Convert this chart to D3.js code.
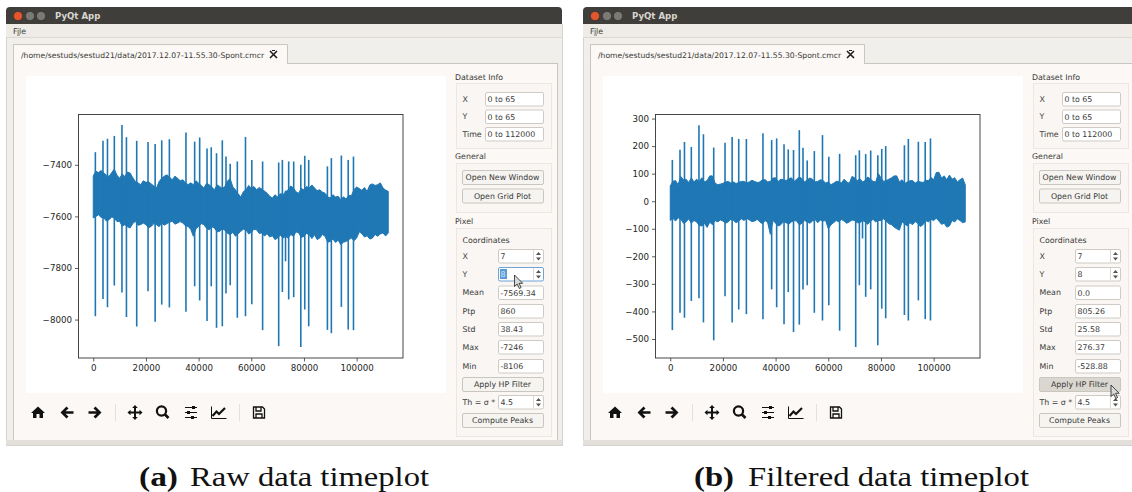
<!DOCTYPE html>
<html><head><meta charset="utf-8">
<script src="https://cdn.jsdelivr.net/npm/d3@7/dist/d3.min.js"></script>
<style>html,body{margin:0;padding:0;background:#fff;overflow:hidden}svg{display:block}
text{font-family:"DejaVu Sans",sans-serif}</style></head><body>
<svg id="c" width="1132" height="492"></svg>
<script>
// ---------- data ----------
const spikeX = [800,3700,5400,8000,10900,12600,16500,20800,23500,26000,28900,35200,38500,40400,43200,44800,46800,49000,50400,52000,54700,57800,60200,64300,70400,71800,73000,74200,76100,78800,80300,81800,88900,90400,94200,96800,98800];
const rawTop = [-7351,-7307,-7299,-7288,-7246,-7293,-7307,-7312,-7319,-7305,-7301,-7275,-7310,-7294,-7337,-7332,-7355,-7305,-7368,-7396,-7387,-7292,-7381,-7387,-7391,-7381,-7500,-7387,-7387,-7400,-7365,-7381,-7406,-7374,-7364,-7381,-7368];
const rawBottom = [-7987,-7920,-7952,-7868,-7895,-7990,-8027,-7890,-8008,-7942,-7953,-7970,-7871,-7926,-8006,-7871,-8032,-8026,-7899,-7867,-7993,-7987,-7941,-8041,-8103,-7893,-7774,-7922,-7913,-8106,-7961,-8026,-8040,-8053,-7951,-8039,-8041];
const filtTop = [150,187,215,197,276,243,195,212,233,226,226,247,222,228,207,188,186,258,194,148,182,240,161,172,167,185,70,171,184,167,190,200,203,226,216,215,228];
const filtBottom = [-468,-405,-423,-362,-352,-440,-505,-345,-440,-393,-410,-428,-320,-385,-447,-330,-475,-448,-320,-305,-405,-433,-378,-470,-529,-305,-135,-347,-320,-523,-390,-425,-413,-433,-360,-428,-433];
const bandX = [0,1000,2000,3000,4000,5000,6000,7000,8000,9000,
10000,11000,12000,13000,14000,15000,16000,17000,18000,19000,
20000,21000,22000,23000,24000,25000,26000,27000,28000,29000,
30000,31000,32000,33000,34000,35000,36000,37000,38000,39000,
40000,41000,42000,43000,44000,45000,46000,47000,48000,49000,
50000,51000,52000,53000,54000,55000,56000,57000,58000,59000,
60000,61000,62000,63000,64000,65000,66000,67000,68000,69000,
70000,71000,72000,73000,74000,75000,76000,77000,78000,79000,
80000,81000,82000,83000,84000,85000,86000,87000,88000,89000,
90000,91000,92000,93000,94000,95000,96000,97000,98000,99000,
100000,101000,102000,103000,104000,105000,106000,107000,108000,109000,
110000,111000,112000];
const rawBandTop = [-7443,-7425,-7430,-7422,-7432,-7440,-7445,-7430,-7417,-7440,
-7452,-7436,-7445,-7428,-7432,-7450,-7465,-7470,-7477,-7462,
-7468,-7466,-7474,-7482,-7490,-7465,-7452,-7444,-7439,-7448,
-7458,-7444,-7452,-7462,-7458,-7470,-7477,-7470,-7477,-7462,
-7471,-7480,-7490,-7472,-7477,-7486,-7497,-7478,-7484,-7492,
-7484,-7462,-7454,-7486,-7497,-7512,-7525,-7504,-7497,-7480,
-7490,-7484,-7497,-7488,-7494,-7502,-7510,-7522,-7529,-7516,
-7525,-7512,-7516,-7505,-7497,-7482,-7490,-7505,-7510,-7492,
-7497,-7484,-7490,-7478,-7490,-7500,-7497,-7506,-7510,-7524,
-7529,-7516,-7525,-7522,-7535,-7524,-7533,-7518,-7520,-7496,
-7486,-7492,-7499,-7488,-7503,-7478,-7474,-7480,-7477,-7470,
-7490,-7498,-7503];
const rawBandBottom = [-7606,-7600,-7594,-7604,-7606,-7618,-7613,-7602,-7606,-7620,
-7619,-7638,-7632,-7640,-7645,-7628,-7619,-7634,-7632,-7626,
-7632,-7644,-7639,-7628,-7632,-7640,-7626,-7634,-7628,-7622,
-7619,-7630,-7626,-7620,-7626,-7636,-7639,-7650,-7677,-7648,
-7639,-7628,-7632,-7646,-7652,-7640,-7645,-7660,-7658,-7648,
-7654,-7666,-7671,-7662,-7677,-7668,-7658,-7650,-7652,-7668,
-7662,-7650,-7652,-7666,-7664,-7676,-7667,-7680,-7675,-7690,
-7684,-7672,-7684,-7678,-7684,-7670,-7677,-7660,-7664,-7682,
-7677,-7666,-7671,-7686,-7671,-7690,-7684,-7670,-7677,-7700,
-7697,-7688,-7701,-7692,-7710,-7700,-7697,-7690,-7684,-7694,
-7684,-7660,-7667,-7680,-7675,-7688,-7684,-7670,-7677,-7668,
-7664,-7676,-7664];
const filtBandTop = [55,72,75,60,90,78,80,68,85,70,
80,72,85,70,75,92,92,66,60,62,
65,70,72,66,70,64,68,72,72,66,
70,76,72,68,70,78,78,70,72,84,
85,72,80,78,75,82,85,72,80,88,
82,70,78,84,80,70,72,78,75,66,
70,60,65,72,72,66,80,70,65,90,
85,74,82,70,75,88,80,72,70,100,
85,72,75,80,85,92,92,70,78,64,
70,74,75,66,72,70,68,76,75,86,
78,104,105,84,92,78,95,80,85,70,
78,84,60];
const filtBandBottom = [-70,-62,-72,-60,-65,-80,-75,-64,-80,-70,
-75,-88,-90,-80,-95,-76,-85,-70,-75,-68,
-72,-80,-75,-66,-70,-78,-72,-64,-70,-62,
-68,-74,-72,-66,-75,-82,-70,-78,-120,-70,
-80,-90,-85,-74,-78,-84,-75,-70,-72,-86,
-80,-70,-75,-80,-72,-66,-78,-68,-72,-70,
-100,-86,-78,-70,-75,-66,-72,-80,-75,-68,
-70,-78,-78,-70,-75,-84,-72,-66,-75,-70,
-70,-64,-72,-82,-85,-94,-100,-105,-75,-82,
-90,-78,-85,-74,-80,-92,-85,-70,-75,-66,
-70,-62,-72,-84,-80,-94,-90,-70,-75,-64,
-70,-78,-75];
const xTicks = [0,20000,40000,60000,80000,100000];
const rawYTicks = [-8000,-7800,-7600,-7400];
const filtYTicks = [-500,-400,-300,-200,-100,0,100,200,300];
const rawDomain = [-8149,-7203];
const filtDomain = [-569.1,316.6];
const xDomain = [-5600,117600];
const rawStats = ["-7569.34","860","38.43","-7246","-8106"];
const filtStats = ["0.0","805.26","25.58","276.37","-528.88"];
const statLabels = ["Mean","Ptp","Std","Max","Min"];
const captions = [["(a)","Raw data timeplot"],["(b)","Filtered data timeplot"]];
const filePath = "/home/sestuds/sestud21/data/2017.12.07-11.55.30-Spont.cmcr";

// ---------- drawing ----------
const svg = d3.select("#c");
const BLUE = "#1f77b4";
const uiFont = 7.85;

function rect(g,x,y,w,h,fill,stroke,r){
  return g.append("rect").attr("x",x+.5).attr("y",y+.5).attr("width",w).attr("height",h)
    .attr("fill",fill).attr("stroke",stroke||"none").attr("rx",r||0);
}
function label(g,x,y,t,o={}){
  return g.append("text").attr("x",x).attr("y",y+3).text(t).attr("font-size",o.size||uiFont)
    .attr("fill",o.fill||"#3a3a38").attr("text-anchor",o.anchor||"start").attr("font-weight",o.weight||null);
}
function input(g,x,y,w,val,o={}){
  rect(g,x,y,w,13.5,"#fff",o.focus?"#6fa3d6":"#cfcac4",1.5);
  if(o.select) g.append("rect").attr("x",x+2).attr("y",y+2).attr("width",7).attr("height",10).attr("fill","#5b9bd5");
  label(g,x+2.5,y+7,val,{fill:o.select?"#dbe9f7":"#3a3a38"});
}
function spin(g,x,y,w,val,o={}){
  input(g,x,y,w,val,o);
  const sx=x+w-10;
  g.append("line").attr("x1",sx+.5).attr("x2",sx+.5).attr("y1",y+1).attr("y2",y+13).attr("stroke","#dcd8d2");
  g.append("path").attr("d",`M${sx+3} ${y+6}l2.5-3 2.5 3z M${sx+3} ${y+8.5}l2.5 3 2.5-3z`).attr("fill","#55534f");
}
function button(g,x,y,w,t,o={}){
  rect(g,x,y,w,14,o.down?"#dad6d0":"#f6f4f1","#c9c5bf",1.5);
  label(g,x+w/2,y+7,t,{anchor:"middle"});
}
function icons(g){
  const c="#111";
  const ic=(x,d,o={})=>g.append("path").attr("transform",`translate(${x},412.5)`).attr("d",d)
     .attr("fill",o.stroke?"none":c).attr("stroke",o.stroke?c:"none").attr("stroke-width",o.stroke||0).attr("stroke-linejoin","miter");
  ic(38,"M0-6L-7 0.5H-5V5.5H-1.5V1.5H1.5V5.5H5V0.5H7Z");
  ic(67,"M-6.5 0L-.5-6L1.5-4L-1.5-1.2H6.5V1.2H-1.5L1.5 4L-.5 6Z");
  ic(95,"M6.5 0L.5-6L-1.5-4L1.5-1.2H-6.5V1.2H1.5L-1.5 4L.5 6Z");
  ic(135,"M0-7.5L-2.8-4.5H-1V-1H-4.5V-2.8L-7.5 0L-4.5 2.8V1H-1V4.5H-2.8L0 7.5L2.8 4.5H1V1H4.5V2.8L7.5 0L4.5-2.8V-1H1V-4.5H2.8Z");
  g.append("circle").attr("cx",161.5).attr("cy",411).attr("r",4.6).attr("fill","none").attr("stroke",c).attr("stroke-width",2.2);
  g.append("line").attr("x1",164.5).attr("y1",414).attr("x2",168.5).attr("y2",418).attr("stroke",c).attr("stroke-width",2.6);
  ic(191,"M-6-5H6M-6 0H6M-6 5H6",{stroke:1.2});
  ic(191,"M1-6.5H4V-3.5H1ZM-4-1.5H-1V1.5H-4ZM0 3.5H3V6.5H0Z");
  ic(219,"M-7.5-6V6H7.5",{stroke:1});
  ic(219,"M-6.5 3.5L-2.5-1L0 1.5L6-4.5",{stroke:2.2});
  ic(259,"M-5.5-5.5H3.5L5.5-3.5V5.5H-5.5ZM-3-5.5V-1.5H2V-5.5M-3 5.5V1.5H3V5.5",{stroke:1.3});
  [115,239].forEach(x=>g.append("line").attr("x1",x+.5).attr("x2",x+.5).attr("y1",404).attr("y2",421).attr("stroke","#e4e0da"));
}

function drawWindow(ox,idx){
  const g = svg.append("g").attr("transform",`translate(${ox},0)`);
  const isRaw = idx===0;
  // window frame
  rect(g,6,24,556,421,"#f1efeb","#d6d3ce");
  g.append("path").attr("d","M6 25V11Q6 7 10 7H558Q562 7 562 11V25Z").attr("fill","#3f3e3a");
  g.append("rect").attr("x",6).attr("y",24).attr("width",556).attr("height",13.5).attr("fill","#efebe6");
  g.append("line").attr("x1",6).attr("x2",562).attr("y1",37.5).attr("y2",37.5).attr("stroke","#dcd8d2");
  // window buttons
  [["#e2562d",18],["#7a7974",30],["#7a7974",41]].forEach(([f,x])=>
    g.append("circle").attr("cx",x).attr("cy",16).attr("r",4.6).attr("fill",f).attr("stroke","#2f2e2b").attr("stroke-width",.6));
  label(g,55,16,"PyQt App",{fill:"#d8d5cf",size:8.6,weight:"600"});
  label(g,13,31,"File",{fill:"#3a3a38"});
  g.append("line").attr("x1",17).attr("x2",20).attr("y1",35).attr("y2",35).attr("stroke","#3a3a38").attr("stroke-width",.7);
  // tab pane
  rect(g,13,63,544,377,"#fbf8f5","#c9c5bf");
  g.append("path").attr("d","M13.5 63.5V44.5H287.5V63.5").attr("fill","#fbf8f5").attr("stroke","#c9c5bf");
  g.append("rect").attr("x",14).attr("y",62).attr("width",273).attr("height",3).attr("fill","#fbf8f5");
  label(g,21,54.5,filePath,{size:7.65});
  g.append("path").attr("d","M270 51L277 58M277 51L270 58").attr("stroke","#1a1a1a").attr("stroke-width",1.5);
  g.append("path").attr("d","M272 50.5L275 50.5").attr("stroke","#1a1a1a").attr("stroke-width",1);
  // bottom band
  g.append("rect").attr("x",6).attr("y",440).attr("width",556).attr("height",5).attr("fill","#e3e0dc");
  // plot canvas
  g.append("rect").attr("x",26).attr("y",76).attr("width",420).attr("height",317).attr("fill","#fff");

  // ----- chart -----
  const bandTop = isRaw?rawBandTop:filtBandTop, bandBot = isRaw?rawBandBottom:filtBandBottom;
  const top = isRaw?rawTop:filtTop, bot = isRaw?rawBottom:filtBottom;
  const x = d3.scaleLinear().domain(xDomain).range([78.5,403]);
  const y = d3.scaleLinear().domain(isRaw?rawDomain:filtDomain).range([358,114]);
  const band = d3.area().x(d=>x(d)).y0((d,i)=>y(bandBot[i])).y1((d,i)=>y(bandTop[i]));
  g.append("path").datum(bandX).attr("d",band).attr("fill",BLUE).attr("stroke",BLUE).attr("stroke-width",1);
  g.selectAll(".spike").data(spikeX).join("line").attr("class","spike")
    .attr("x1",d=>x(d)).attr("x2",d=>x(d))
    .attr("y1",(d,i)=>y(top[i])).attr("y2",(d,i)=>y(bot[i]))
    .attr("stroke",BLUE).attr("stroke-width",1.6);
  const ax = g.append("g").attr("transform","translate(0,358)")
    .call(d3.axisBottom(x).tickValues(xTicks).tickFormat(d3.format("d")).tickSize(3.5));
  const ay = g.append("g").attr("transform","translate(78.5,0)")
    .call(d3.axisLeft(y).tickValues(isRaw?rawYTicks:filtYTicks).tickFormat(d=>d3.format("d")(d)).tickSize(3.5));
  [ax,ay].forEach(a=>{
    a.attr("font-size",null).attr("font-family",null);
    a.selectAll("text").attr("font-size",8.7).attr("fill","#262626");
    a.selectAll("line").attr("stroke","#333").attr("stroke-width",.8);
    a.select(".domain").attr("stroke","none");
  });
  g.append("rect").attr("x",78.5).attr("y",114.5).attr("width",324.5).attr("height",243.5)
    .attr("fill","none").attr("stroke","#333").attr("stroke-width",.9);

  icons(g);

  // ----- side panel -----
  label(g,455,77,"Dataset Info");
  rect(g,456,83,95,65,"#f9f6f3","#ebe7e2");
  [["X",92,"0 to 65"],["Y",109.5,"0 to 65"],["Time",127,"0 to 112000"]].forEach(([l,yy,v])=>{
    label(g,462.5,yy+6.5,l);
    input(g,485,yy,58,v);
  });
  label(g,455,156,"General");
  rect(g,456,163,95,49,"#f9f6f3","#ebe7e2");
  button(g,462,170,81,"Open New Window");
  button(g,462,188.5,81,"Open Grid Plot");
  label(g,455,221,"Pixel");
  rect(g,456,228,95,208,"#f9f6f3","#ebe7e2");
  label(g,462.5,240,"Coordinates");
  label(g,462.5,256,"X");
  spin(g,498,249,45,"7");
  label(g,462.5,274,"Y");
  spin(g,498,267,45,"8",isRaw?{focus:true,select:true}:{});
  const stats = isRaw?rawStats:filtStats;
  statLabels.forEach((l,i)=>{
    const yy=[285.5,304,322,340,359][i];
    label(g,462.5,yy+6.5,l);
    input(g,498,yy,45,stats[i]);
  });
  button(g,462,377,81,"Apply HP Filter",{down:!isRaw});
  label(g,462.5,402,"Th = σ *");
  spin(g,498,395,45,"4.5");
  button(g,462,413,81,"Compute Peaks");

  // cursor
  const cur = isRaw?[514.5,275]:[534,385];
  g.append("path").attr("transform",`translate(${cur[0]},${cur[1]})`)
    .attr("d","M0 0V11.5L2.7 9L4.8 13.5L6.6 12.6L4.6 8.3H8.2Z").attr("fill","#d8d8d8").attr("stroke","#222").attr("stroke-width",.8);

  // caption
  const capX = isRaw?[139,190]:[117,171];
  const capW = isRaw?[39,239]:[40,281];
  const capFont = "'Liberation Serif',serif";
  [0,1].forEach(j=>{
    g.append("text").attr("x",capX[j]).attr("y",485.5).style("font-family",capFont)
      .attr("font-size",27).attr("fill","#111").attr("font-weight",j?null:"bold")
      .attr("textLength",capW[j]).attr("lengthAdjust","spacingAndGlyphs").text(captions[idx][j]);
  });
}
drawWindow(0,0);
drawWindow(577,1);
</script></body></html>
